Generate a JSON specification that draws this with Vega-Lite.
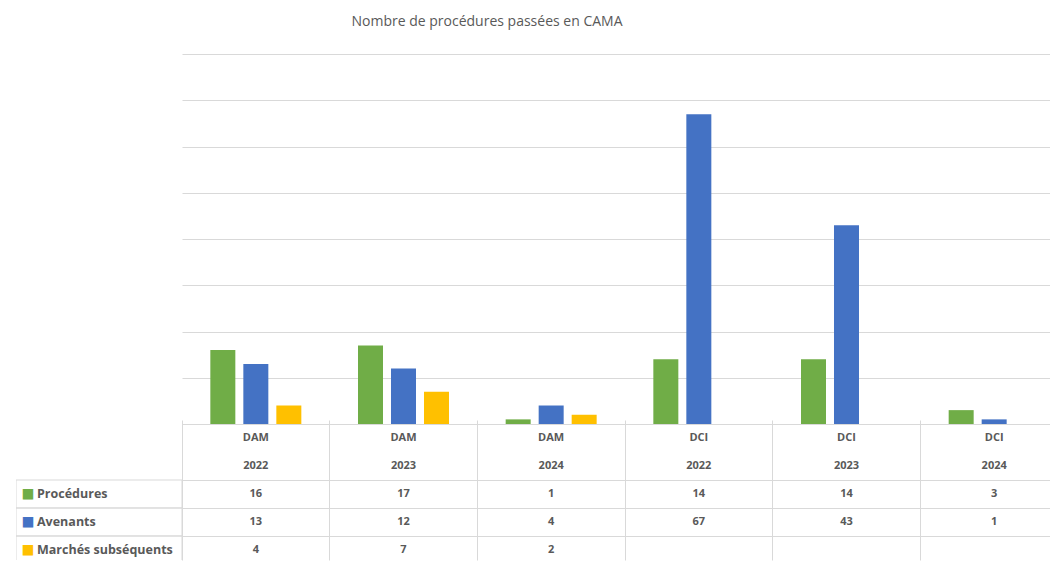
{
  "$schema": "https://vega.github.io/schema/vega-lite/v6.json",
  "padding": {"left": 16, "top": 15, "right": 0, "bottom": 0},
  "config": {"view": {"stroke": null}, "font": "Open Sans"},
  "spacing": 0,
  "bounds": "flush",
  "columns": 2,
  "datasets": {
    "rows": [
      {"group": "DAM 2022", "dir": "DAM", "year": "2022", "series": "Procédures", "value": 16},
      {"group": "DAM 2022", "dir": "DAM", "year": "2022", "series": "Avenants", "value": 13},
      {"group": "DAM 2022", "dir": "DAM", "year": "2022", "series": "Marchés subséquents", "value": 4},
      {"group": "DAM 2023", "dir": "DAM", "year": "2023", "series": "Procédures", "value": 17},
      {"group": "DAM 2023", "dir": "DAM", "year": "2023", "series": "Avenants", "value": 12},
      {"group": "DAM 2023", "dir": "DAM", "year": "2023", "series": "Marchés subséquents", "value": 7},
      {"group": "DAM 2024", "dir": "DAM", "year": "2024", "series": "Procédures", "value": 1},
      {"group": "DAM 2024", "dir": "DAM", "year": "2024", "series": "Avenants", "value": 4},
      {"group": "DAM 2024", "dir": "DAM", "year": "2024", "series": "Marchés subséquents", "value": 2},
      {"group": "DCI 2022", "dir": "DCI", "year": "2022", "series": "Procédures", "value": 14},
      {"group": "DCI 2022", "dir": "DCI", "year": "2022", "series": "Avenants", "value": 67},
      {"group": "DCI 2023", "dir": "DCI", "year": "2023", "series": "Procédures", "value": 14},
      {"group": "DCI 2023", "dir": "DCI", "year": "2023", "series": "Avenants", "value": 43},
      {"group": "DCI 2024", "dir": "DCI", "year": "2024", "series": "Procédures", "value": 3},
      {"group": "DCI 2024", "dir": "DCI", "year": "2024", "series": "Avenants", "value": 1}
    ],
    "serieslist": [
      {"series": "Procédures"},
      {"series": "Avenants"},
      {"series": "Marchés subséquents"}
    ]
  },
  "concat": [
    {
      "width": 166,
      "height": 370,
      "data": {"values": []},
      "mark": "point"
    },
    {
      "width": 868,
      "height": 370,
      "title": {"text": "Nombre de procédures passées en CAMA", "anchor": "middle", "dx": -129, "offset": 25, "fontSize": 14, "font": "Open Sans", "fontWeight": "normal", "color": "#595959"},
      "data": {"name": "rows"},
      "mark": {"type": "bar"},
      "encoding": {
        "x": {"field": "group", "type": "nominal", "scale": {"domain": ["DAM 2022", "DAM 2023", "DAM 2024", "DCI 2022", "DCI 2023", "DCI 2024"], "range": [0, 886], "paddingInner": 0, "paddingOuter": 0}, "axis": null},
        "xOffset": {"field": "series", "type": "nominal", "scale": {"domain": ["Procédures", "Avenants", "Marchés subséquents"], "paddingInner": 0.2424, "paddingOuter": 0.8586}},
        "y": {"field": "value", "type": "quantitative", "scale": {"domain": [0, 80], "nice": false}, "axis": {"values": [0, 10, 20, 30, 40, 50, 60, 70, 80], "grid": true, "gridColor": "#d9d9d9", "labels": false, "ticks": false, "domain": false, "title": null}},
        "color": {"field": "series", "type": "nominal", "scale": {"domain": ["Procédures", "Avenants", "Marchés subséquents"], "range": ["#70AD47", "#4472C4", "#FFC000"]}, "legend": null}
      }
    },
    {
      "width": 166,
      "height": 136,
      "data": {"name": "serieslist"},
      "layer": [
        {
          "mark": {"type": "rect", "fill": "white", "fillOpacity": 0, "stroke": "#d9d9d9", "strokeWidth": 1, "clip": true},
          "encoding": {
            "y": {"field": "series", "type": "nominal", "scale": {"type": "band", "domain": ["h1", "h2", "Procédures", "Avenants", "Marchés subséquents"], "range": [0, 140], "paddingInner": 0, "paddingOuter": 0}, "axis": null}
          }
        },
        {
          "mark": {"type": "text", "text": "■", "align": "center", "baseline": "middle", "dx": -71, "fontSize": 13.5, "font": "DejaVu Sans"},
          "encoding": {
            "y": {"field": "series", "type": "nominal"},
            "color": {"field": "series", "type": "nominal", "scale": {"domain": ["Procédures", "Avenants", "Marchés subséquents"], "range": ["#70AD47", "#4472C4", "#FFC000"]}, "legend": null}
          }
        },
        {
          "mark": {"type": "text", "align": "left", "baseline": "middle", "dx": -62, "fontSize": 12.5, "fontWeight": "bold", "color": "#595959"},
          "encoding": {
            "y": {"field": "series", "type": "nominal"},
            "text": {"field": "series", "type": "nominal"}
          }
        }
      ]
    },
    {
      "width": 868,
      "height": 136,
      "data": {"name": "rows"},
      "layer": [
        {
          "transform": [{"filter": "datum.series === 'Procédures'"}],
          "mark": {"type": "text", "baseline": "middle", "fontSize": 11, "fontWeight": "bold", "color": "#595959"},
          "encoding": {
            "x": {"field": "group", "type": "nominal", "scale": {"type": "band", "domain": ["DAM 2022", "DAM 2023", "DAM 2024", "DCI 2022", "DCI 2023", "DCI 2024"], "range": [0, 886], "paddingInner": 0, "paddingOuter": 0}, "axis": {"grid": true, "bandPosition": 0, "gridColor": "#d9d9d9", "labels": false, "ticks": false, "domain": false, "title": null}},
            "y": {"datum": "h1", "type": "nominal", "scale": {"type": "band", "domain": ["h1", "h2", "Procédures", "Avenants", "Marchés subséquents"], "range": [0, 140], "paddingInner": 0, "paddingOuter": 0}, "axis": {"grid": true, "bandPosition": 0, "values": ["h1", "Procédures", "Avenants", "Marchés subséquents"], "gridColor": "#d9d9d9", "labels": false, "ticks": false, "domain": false, "title": null}},
            "text": {"field": "dir", "type": "nominal"}
          }
        },
        {
          "transform": [{"filter": "datum.series === 'Procédures'"}],
          "mark": {"type": "text", "baseline": "middle", "fontSize": 11, "fontWeight": "bold", "color": "#595959"},
          "encoding": {
            "x": {"field": "group", "type": "nominal"},
            "y": {"datum": "h2", "type": "nominal"},
            "text": {"field": "year", "type": "nominal"}
          }
        },
        {
          "mark": {"type": "text", "baseline": "middle", "fontSize": 11, "fontWeight": "bold", "color": "#595959"},
          "encoding": {
            "x": {"field": "group", "type": "nominal"},
            "y": {"field": "series", "type": "nominal"},
            "text": {"field": "value", "type": "quantitative"}
          }
        }
      ]
    }
  ]
}
